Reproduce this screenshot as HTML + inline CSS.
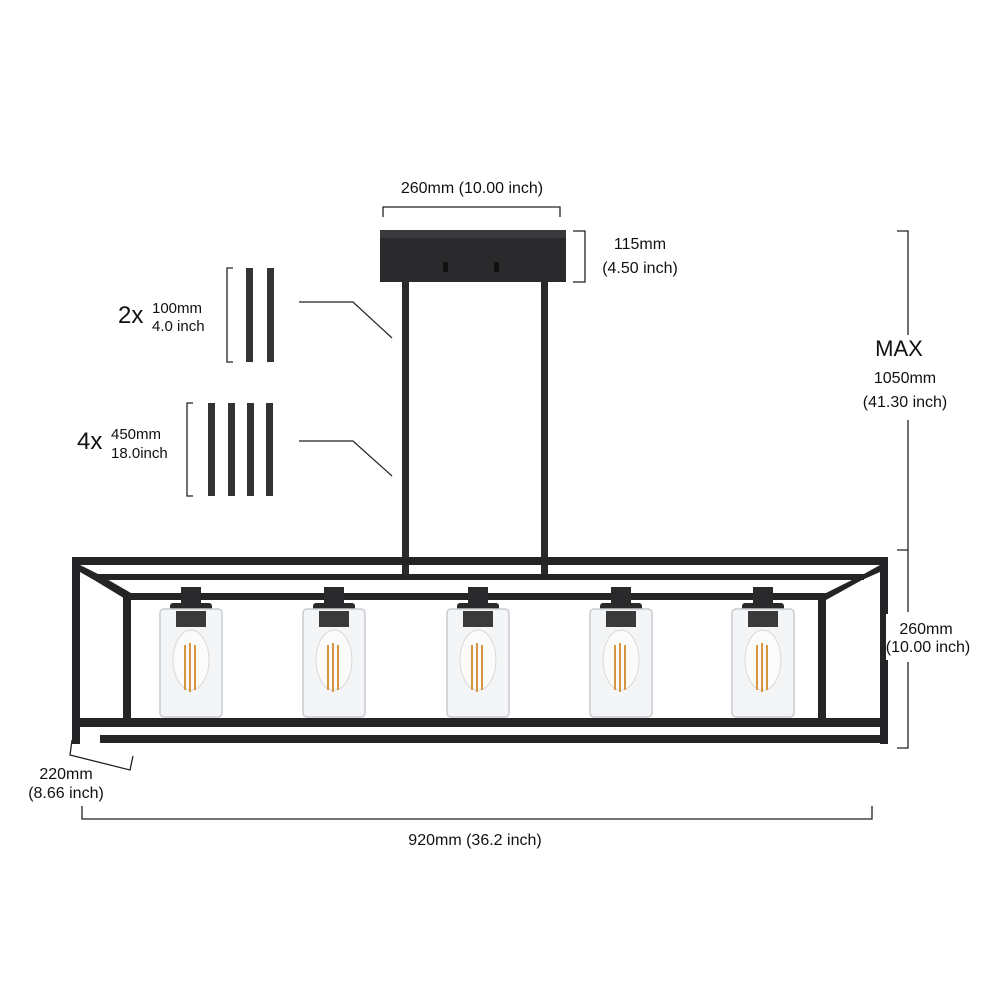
<!DOCTYPE html>
<html><head><style>
html,body{margin:0;padding:0;background:#fff;}
svg{display:block}
text{font-family:"Liberation Sans",Arial,sans-serif;fill:#111}
</style></head><body>
<svg width="1000" height="1000" viewBox="0 0 1000 1000" xmlns="http://www.w3.org/2000/svg">
<text x="472" y="193" font-size="16" text-anchor="middle">260mm (10.00 inch)</text>
<path d="M383 217V207H560V217" fill="none" stroke="#222" stroke-width="1.3"/>
<rect x="380" y="230" width="186" height="52" fill="#2a2a2c"/>
<rect x="380" y="230" width="186" height="8" fill="#3a3a3d"/>
<rect x="443" y="262" width="5" height="10" fill="#111"/>
<rect x="494" y="262" width="5" height="10" fill="#111"/>
<path d="M573 231H585V282H573" fill="none" stroke="#222" stroke-width="1.3"/>
<text x="640" y="249" font-size="16" text-anchor="middle">115mm</text>
<text x="640" y="273" font-size="16" text-anchor="middle">(4.50 inch)</text>
<rect x="402" y="282" width="7" height="296" fill="#2a2a2c"/>
<rect x="541" y="282" width="7" height="296" fill="#2a2a2c"/>
<path d="M233 268H227V362H233" fill="none" stroke="#222" stroke-width="1.3"/>
<rect x="246" y="268" width="7" height="94" fill="#333"/>
<rect x="267" y="268" width="7" height="94" fill="#333"/>
<text x="118" y="323" font-size="24">2x</text>
<text x="152" y="313" font-size="15">100mm</text>
<text x="152" y="331" font-size="15">4.0 inch</text>
<path d="M193 403H187V496H193" fill="none" stroke="#222" stroke-width="1.3"/>
<rect x="208" y="403" width="7" height="93" fill="#333"/>
<rect x="228" y="403" width="7" height="93" fill="#333"/>
<rect x="247" y="403" width="7" height="93" fill="#333"/>
<rect x="266" y="403" width="7" height="93" fill="#333"/>
<text x="77" y="449" font-size="24">4x</text>
<text x="111" y="439" font-size="15">450mm</text>
<text x="111" y="458" font-size="15">18.0inch</text>
<path d="M299 302H353L392 338M299 441H353L392 476" fill="none" stroke="#222" stroke-width="1.2"/>
<path d="M897 231H908V335M908 420V550M897 550H908V612M908 662V748H897" fill="none" stroke="#222" stroke-width="1.3"/>
<text x="899" y="356" font-size="22" text-anchor="middle">MAX</text>
<text x="905" y="383" font-size="16" text-anchor="middle">1050mm</text>
<text x="905" y="407" font-size="16" text-anchor="middle">(41.30 inch)</text>
<g fill="#242426">
<rect x="72" y="557" width="816" height="8"/>
<rect x="98" y="574" width="766" height="6"/>
<rect x="123" y="593" width="703" height="7"/>
<rect x="72" y="557" width="8" height="187"/>
<rect x="880" y="557" width="8" height="187"/>
<rect x="123" y="593" width="8" height="127"/>
<rect x="818" y="593" width="8" height="127"/>
<rect x="72" y="718" width="816" height="9"/>
<rect x="100" y="735" width="788" height="8"/>
<polygon points="80,565 98,574 131,593 127,600 94,580 80,572"/>
<polygon points="880,565 864,574 826,593 826,600 862,580 880,572"/>
</g>
<rect x="886" y="614" width="70" height="46" fill="#fff"/>
<text x="926" y="634" font-size="16" text-anchor="middle">260mm</text>
<text x="928" y="652" font-size="16" text-anchor="middle">(10.00 inch)</text>
<g id="l">
<rect x="181" y="587" width="20" height="18" fill="#2a2a2c"/>
<rect x="170" y="603" width="42" height="8" rx="3" fill="#2a2a2c"/>
<rect x="160" y="609" width="62" height="108" rx="4" fill="#f3f5f7" stroke="#c8ccd0" stroke-width="1.5"/>
<rect x="176" y="611" width="30" height="16" fill="#3a3a3a"/>
<ellipse cx="191" cy="660" rx="18" ry="30" fill="#fbfbfb" stroke="#d8d8d8"/>
<path d="M185 645V690M190 643V692M195 645V690" stroke="#d9943f" stroke-width="2"/>
</g>
<use href="#l" x="143"/>
<use href="#l" x="287"/>
<use href="#l" x="430"/>
<use href="#l" x="572"/>
<path d="M72 740L70 755L130 770L133 756" fill="none" stroke="#222" stroke-width="1.3"/>
<text x="66" y="779" font-size="16" text-anchor="middle">220mm</text>
<text x="66" y="798" font-size="16" text-anchor="middle">(8.66 inch)</text>
<path d="M82 806V819H872V806" fill="none" stroke="#222" stroke-width="1.3"/>
<text x="475" y="845" font-size="16" text-anchor="middle">920mm (36.2 inch)</text>
</svg>
</body></html>
